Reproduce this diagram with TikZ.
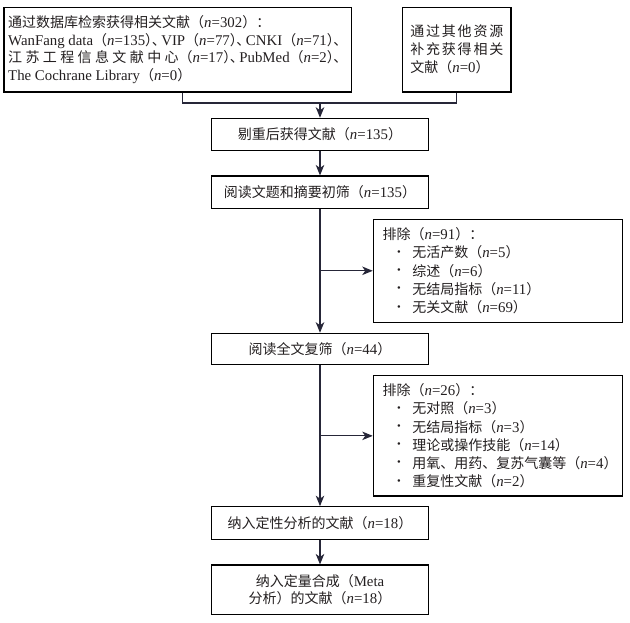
\documentclass[tikz,border=0pt]{standalone}
\usepackage{fontspec}
\setmainfont{Liberation Serif}[Scale=1.06]
\newfontfamily\cjk{Noto Sans CJK SC}
\usetikzlibrary{arrows.meta}
\definecolor{txt}{HTML}{231F20}
\definecolor{conncol}{HTML}{262638}
\newcommand\zh[1]{{\cjk #1}}
\newcommand\nn{\textit{n}}
\newcommand\lb{\zh{（}}
\newcommand\rb{\zh{）}}
\newcommand\rbd{\zh{）}\kern-.5em\zh{、}}
\newlength\lineAw
\newcommand\lineA{WanFang data\lb\nn=135\rbd\kern-.3em VIP\lb\nn=77\rbd\kern-.3em CNKI\lb\nn=71\rbd}
\newcommand\bul{\hspace*{14.5pt}\makebox[15.1pt][l]{\fontsize{10}{10}\selectfont\raisebox{2.5pt}{•}}}
\begin{document}
\settowidth\lineAw{\fontsize{14}{18}\selectfont\lineA}%
\begin{tikzpicture}[x=1pt,y=-1pt,
  font=\fontsize{14}{18}\selectfont,
  every node/.style={text=txt},
  box/.style={draw=black, line width=1.1pt, inner sep=0pt, align=center},
  excl/.style={box, align=left, inner xsep=9.4pt, inner ysep=0pt, text width=230.6pt,
    minimum width=249.4pt, font=\fontsize{14}{18.2}\selectfont},
  link/.style={draw=conncol, line width=1.2pt},
  arr/.style={link, -{Stealth[length=10.5pt,width=8.5pt,inset=3pt]}}]
\useasboundingbox (0,0) rectangle (630,623);

\node[box, minimum width=347.7pt, minimum height=84.7pt, align=left,
  font=\fontsize{14}{17.7}\selectfont] (A) at (177.85,49.65)
  {\zh{通过数据库检索获得相关文献（}\nn=302\zh{）：}\\
   \lineA\\
   \hbox to \lineAw{\zh{江}\hfil\zh{苏}\hfil\zh{工}\hfil\zh{程}\hfil\zh{信}\hfil\zh{息}\hfil\zh{文}\hfil\zh{献}\hfil\zh{中}\hfil\zh{心（}\nn=17\rbd\kern-.3em PubMed\lb\nn=2\rbd}\\
   The Cochrane Library\lb\nn=0\rb};

\node[box, minimum width=108.3pt, minimum height=84.7pt, align=left] (B) at (456.85,49.65)
  {\hbox to 93pt{\zh{通}\hfil\zh{过}\hfil\zh{其}\hfil\zh{他}\hfil\zh{资}\hfil\zh{源}}\\
   \hbox to 93pt{\zh{补}\hfil\zh{充}\hfil\zh{获}\hfil\zh{得}\hfil\zh{相}\hfil\zh{关}}\\
   \zh{文献（}\nn=0\rb};

\node[box, minimum width=216.6pt, minimum height=32.4pt] (C) at (320,134.5)
  {\zh{剔重后获得文献（}\nn=135\rb};
\node[box, minimum width=216.6pt, minimum height=32.3pt] (D) at (320,192.15)
  {\zh{阅读文题和摘要初筛（}\nn=135\rb};
\node[excl, minimum height=103pt] (E1) at (498,270.8)
  {\zh{排除（}\nn=91\zh{）：}\\
   \bul\zh{无活产数（}\nn=5\rb\\
   \bul\zh{综述（}\nn=6\rb\\
   \bul\zh{无结局指标（}\nn=11\rb\\
   \bul\zh{无关文献（}\nn=69\rb};
\node[box, minimum width=216.6pt, minimum height=31pt] (F) at (320,348.8)
  {\zh{阅读全文复筛（}\nn=44\rb};
\node[excl, minimum height=120.3pt] (E2) at (498,435.85)
  {\zh{排除（}\nn=26\zh{）：}\\
   \bul\zh{无对照（}\nn=3\rb\\
   \bul\zh{无结局指标（}\nn=3\rb\\
   \bul\zh{理论或操作技能（}\nn=14\rb\\
   \bul\zh{用氧、用药、复苏气囊等（}\nn=4\rb\\
   \bul\zh{重复性文献（}\nn=2\rb};
\node[box, minimum width=216.6pt, minimum height=32.6pt] (G) at (320,523)
  {\zh{纳入定性分析的文献（}\nn=18\rb};
\node[box, minimum width=216.6pt, minimum height=49.3pt,
  font=\fontsize{14}{17.3}\selectfont] (H) at (320,589.65)
  {\zh{纳入定量合成（}Meta\\\zh{分析）的文献（}\nn=18\rb};

\coordinate (m) at (320,103);
\draw[link] ([xshift=4.9pt]A.south) |- (m);
\draw[link] (B.south) |- (m);
\draw[arr] (m) -- (C.north);
\draw[arr] (C) -- (D);
\draw[arr] (D) -- (F);
\draw[arr] (D.south |- E1.west) -- (E1.west);
\draw[arr] (F) -- (G);
\draw[arr] (F.south |- E2.west) -- (E2.west);
\draw[arr] (G) -- (H);
\end{tikzpicture}
\end{document}
